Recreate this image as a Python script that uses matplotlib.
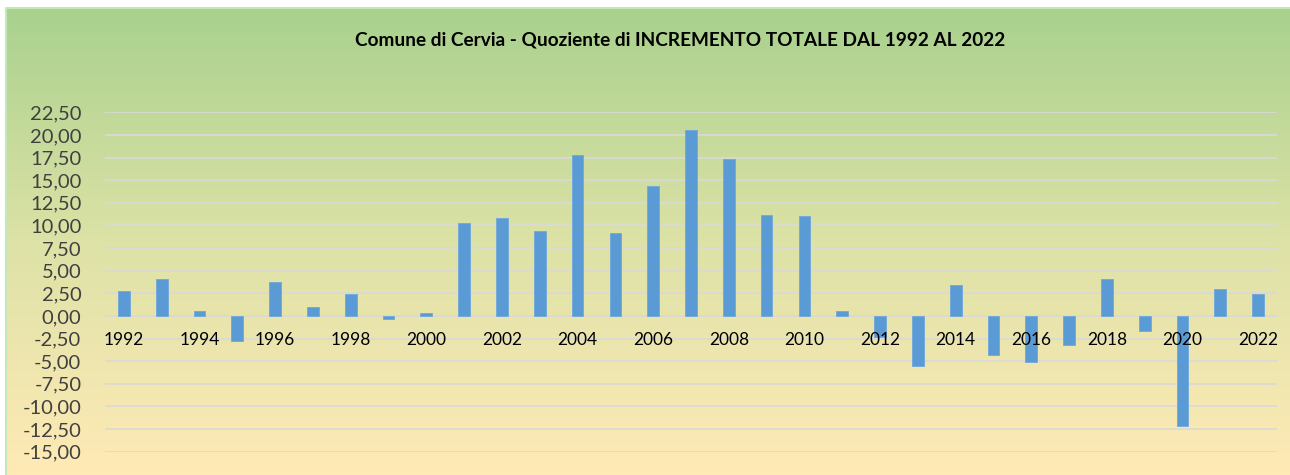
import matplotlib
matplotlib.use("Agg")
import matplotlib.pyplot as plt
import numpy as np
from matplotlib.colors import LinearSegmentedColormap
from matplotlib.lines import Line2D

years = list(range(1992, 2023))
values = [2.76, 4.05, 0.59, -2.80, 3.72, 1.00, 2.43, -0.37, 0.33, 10.31,
          10.86, 9.36, 17.75, 9.14, 14.36, 20.50, 17.30, 11.16, 11.05, 0.55,
          -2.28, -5.49, 3.39, -4.35, -5.04, -3.24, 4.12, -1.66, -12.15, 3.02,
          2.43]
title = "Comune di Cervia - Quoziente di INCREMENTO TOTALE DAL 1992 AL 2022"
yticks = np.arange(-15, 22.51, 2.5)

plt.rcParams['font.family'] = ['Lato', 'DejaVu Sans']

fig = plt.figure(figsize=(12.9, 4.75), dpi=100)

# gradient background
bg = fig.add_axes([6/1290, 0, 1 - 6/1290, (475 - 8)/475])
cmap = LinearSegmentedColormap.from_list("g", ["#A9D18E", "#DDE2A6", "#FFEAB6"])
grad = np.linspace(0, 1, 256).reshape(-1, 1)
bg.imshow(grad, aspect='auto', cmap=cmap, extent=[0, 1, 0, 1], origin='upper')
bg.set_xlim(0, 1); bg.set_ylim(0, 1)
bg.axis('off')
bg.add_line(Line2D([0, 0, 1], [0, 1, 1], color="#C5E8B7", lw=1.5,
                   transform=bg.transAxes, clip_on=False))

ax = fig.add_axes([105/1290, (475 - 451.7)/475, (1277 - 105)/1290, (451.7 - 112.3)/475])
ax.patch.set_alpha(0)
x = np.arange(len(years))
ax.bar(x, values, width=0.31, color="#5B9BD5", edgecolor="#6FA8DC", linewidth=0.6, zorder=3)
ax.set_xlim(-0.5, len(years) - 0.5)
ax.set_ylim(-15, 22.5)
ax.set_yticks(yticks)
ax.set_yticklabels([f"{v:.2f}".replace(".", ",") for v in yticks], fontsize=14.5, color="#404040")
ax.tick_params(axis='y', length=0, pad=17)
ax.set_xticks([])
ax.grid(axis='y', color="#D9D9D9", linewidth=1.2, zorder=0)
for s in ax.spines.values():
    s.set_visible(False)

for i, yr in enumerate(years):
    if yr % 2 == 0:
        ax.text(i, -2.65, str(yr), ha='center', va='center', fontsize=12.5, color="#000000", zorder=4)

fig.text(680/1290, 1 - 40/475, title, ha='center', va='center', fontsize=13.7,
         fontweight='bold', color="#000000")

fig.savefig("out.png", dpi=100)
